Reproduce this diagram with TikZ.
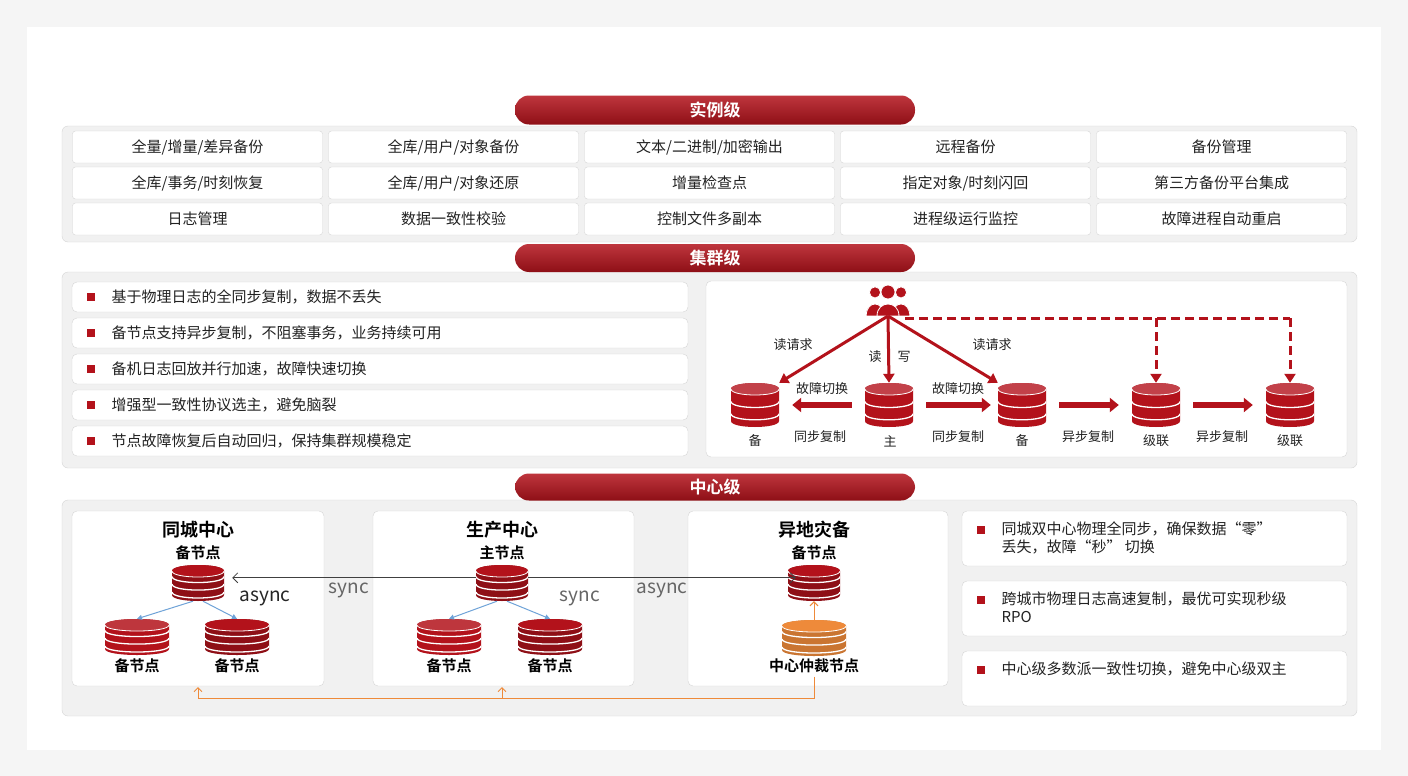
\documentclass[tikz,border=0pt]{standalone}
\usepackage{fontspec}
\setmainfont{Noto Sans CJK SC}[BoldFont={Noto Sans CJK SC Bold}]
\usetikzlibrary{calc,arrows.meta}
\definecolor{dred}{HTML}{B3121B}
\definecolor{dred2}{HTML}{8E0F16}
\definecolor{pale}{HTML}{F1F1F1}
\definecolor{edge}{HTML}{D6D6D6}
\definecolor{txt}{HTML}{222222}
\definecolor{org}{HTML}{EE8A3A}
\definecolor{blu}{HTML}{6FA3D8}
\newcommand\dbpic[3]{%
 \coordinate (ppsw) at (path picture bounding box.south west);
 \coordinate (ppne) at (path picture bounding box.north east);
 \coordinate (ppnw) at (ppsw|-ppne); \coordinate (ppse) at (ppne|-ppsw);
 \fill[#1] ([yshift=-6pt]ppnw) -- ([yshift=6pt]ppsw) .. controls ([yshift=-2pt]ppsw) and ([yshift=-2pt]ppse) .. ([yshift=6pt]ppse) -- ([yshift=-6pt]ppne) .. controls ([yshift=2pt]ppne) and ([yshift=2pt]ppnw) .. cycle;
 \fill[#2] ([yshift=-6pt]ppnw) .. controls ([yshift=2pt]ppnw) and ([yshift=2pt]ppne) .. ([yshift=-6pt]ppne) .. controls ([yshift=-14pt]ppne) and ([yshift=-14pt]ppnw) .. cycle;
 \draw[white,line width=0.8pt] ([yshift=-6pt]ppnw) .. controls ([yshift=-14pt]ppnw) and ([yshift=-14pt]ppne) .. ([yshift=-6pt]ppne);
 \foreach \f in {#3}{\draw[white,line width=1.3pt] ($(ppsw)!\f!(ppnw)$) .. controls +(0pt,-8pt) and +(0pt,-8pt) .. ($(ppse)!\f!(ppne)$);}}
\tikzset{
 x=1pt,y=-1pt,
 pill/.style={rounded corners=14pt,top color=dred!85!white,bottom color=dred2,text=white,font=\fontsize{17}{20}\selectfont\bfseries},
 panel/.style={draw=edge,fill=pale,rounded corners=6pt},
 cell/.style={draw=edge,fill=white,rounded corners=3pt,minimum width=250pt,minimum height=32pt,font=\fontsize{15}{18}\selectfont,text=txt},
 wbox/.style={draw=edge,fill=white,rounded corners=5pt},
 btxt/.style={anchor=west,font=\fontsize{15}{18}\selectfont,text=txt,align=left},
 bsq/.style={fill=dred,minimum size=8pt,inner sep=0pt},
 db/.style={rectangle,inner sep=0pt,minimum width=48pt,minimum height=44pt,path picture={\dbpic{dred}{dred!80!white}{0.3,0.58}}},
 dbc/.style={rectangle,inner sep=0pt,minimum width=64pt,minimum height=36pt,path picture={\dbpic{dred2}{dred}{0.25,0.47,0.68}}},
 dbo/.style={rectangle,inner sep=0pt,minimum width=64pt,minimum height=36pt,path picture={\dbpic{org!85!black}{org}{0.25,0.47,0.68}}},
 lbl/.style={font=\fontsize{13}{15}\selectfont,text=txt},
 blbl/.style={font=\fontsize{15}{18}\selectfont\bfseries,text=black},
 tlbl/.style={font=\fontsize{18}{21}\selectfont\bfseries,text=black},
 glbl/.style={font=\fontsize{19}{22}\selectfont,text=black!60},
 thick red/.style={draw=dred,line width=3pt,-{Triangle[length=9pt,width=11pt]}},
 fat/.style={draw=dred,line width=6pt,-{Triangle[length=9pt,width=14pt]}},
}
\begin{document}
\begin{tikzpicture}
\useasboundingbox (0,0) rectangle (1408,776);
\fill[black!4] (0,0) rectangle (1408,776);
\fill[white] (27,27) rectangle (1381,750);
% ---------- instance level
\draw[panel] (62,126) rectangle (1357,242);
\node[pill,minimum width=400pt,minimum height=29pt] (p1) at (715,110) {实例级};
\foreach \t [count=\i from 0] in {全量/增量/差异备份,全库/用户/对象备份,文本/二进制/加密输出,远程备份,备份管理}
  \node[cell] (a\i) at ({197.5+256*\i},147) {\t};
\foreach \t [count=\i from 0] in {全库/事务/时刻恢复,全库/用户/对象还原,增量检查点,指定对象/时刻闪回,第三方备份平台集成}
  \node[cell] (b\i) at ({197.5+256*\i},183) {\t};
\foreach \t [count=\i from 0] in {日志管理,数据一致性校验,控制文件多副本,进程级运行监控,故障进程自动重启}
  \node[cell] (c\i) at ({197.5+256*\i},219) {\t};
% ---------- cluster level
\draw[panel] (62,272) rectangle (1357,468);
\node[pill,minimum width=400pt,minimum height=28pt] (p2) at (715,258) {集群级};
\foreach \t [count=\i from 0] in {基于物理日志的全同步复制，数据不丢失,备节点支持异步复制，不阻塞事务，业务持续可用,备机日志回放并行加速，故障快速切换,增强型一致性协议选主，避免脑裂,节点故障恢复后自动回归，保持集群规模稳定}{
  \draw[wbox] (72,{282+36*\i}) rectangle (688,{312+36*\i});
  \node[bsq] (q\i) at (91,{297+36*\i}) {};
  \node[btxt] (t\i) at (108,{297+36*\i}) {\t};}
\draw[wbox] (706,281) rectangle (1347,457);
% users icon
\node[inner sep=0pt,minimum width=50pt,minimum height=34pt] (usr) at (888,300) {};
\foreach \dx/\s in {-13/0.8,13/0.8,0/1}{
  \fill[dred,draw=white,line width=0.8pt] ({888+\dx-11*\s},{316}) .. controls ({888+\dx-11*\s},{300}) and ({888+\dx+11*\s},{300}) .. ({888+\dx+11*\s},{316}) -- cycle;
  \fill[dred,draw=white,line width=0.8pt] ({888+\dx},{294-2*\s}) circle ({7*\s});}
\node[db] (d1) at (755,405) {};
\node[db] (d2) at (889,405) {};
\node[db] (d3) at (1022,405) {};
\node[db] (d4) at (1156,405) {};
\node[db] (d5) at (1290,405) {};
\coordinate (uo) at (888,316);
\draw[thick red] (uo) -- (d1.north east);
\draw[thick red] (uo) -- (d2.north);
\draw[thick red] (uo) -- (d3.north west);
\coordinate (k1) at (1156,318); \coordinate (k2) at (1290,318);
\draw[draw=dred,line width=3pt,dash pattern=on 9pt off 5pt] (905,318) -- (k2);
\draw[draw=dred,line width=3pt,dash pattern=on 9pt off 5pt,-{Triangle[length=9pt,width=11pt]}] (k1) -- (d4.north);
\draw[draw=dred,line width=3pt,dash pattern=on 9pt off 5pt,-{Triangle[length=9pt,width=11pt]}] (k2) -- (d5.north);
\draw[fat] ([xshift=-13pt]d2.west) -- ([xshift=13pt]d1.east);
\draw[fat] ([xshift=13pt]d2.east) -- ([xshift=-7pt]d3.west);
\draw[fat] ([xshift=13pt]d3.east) -- ([xshift=-13pt]d4.west);
\draw[fat] ([xshift=13pt]d4.east) -- ([xshift=-13pt]d5.west);
\node[lbl] (r1) at (793,345) {读请求};
\node[lbl] (r2) at (992,345) {读请求};
\node[lbl] (r3) at (875,357) {读};
\node[lbl] (r4) at (904,357) {写};
\node[lbl] (f1) at (822,389) {故障切换};
\node[lbl] (f2) at (958,389) {故障切换};
\node[lbl] (s1) at (820,437) {同步复制};
\node[lbl] (s2) at (958,437) {同步复制};
\node[lbl] (s3) at (1088,437) {异步复制};
\node[lbl] (s4) at (1222,437) {异步复制};
\node[lbl] (n1) at (755,441) {备};
\node[lbl] (n2) at (890,441) {主};
\node[lbl] (n3) at (1022,441) {备};
\node[lbl] (n4) at (1156,441) {级联};
\node[lbl] (n5) at (1290,441) {级联};
% ---------- center level
\draw[panel] (62,500) rectangle (1357,716);
\node[pill,minimum width=400pt,minimum height=27pt] (p3) at (715,487) {中心级};
\draw[wbox] (72,511) rectangle (324,686);
\draw[wbox] (373,511) rectangle (634,686);
\draw[wbox] (688,511) rectangle (948,686);
\foreach \t [count=\i from 0] in {同城双中心物理全同步，确保数据“零”\\丢失，故障“秒” 切换,跨城市物理日志高速复制，最优可实现秒级\\RPO,中心级多数派一致性切换，避免中心级双主}{
  \draw[wbox] (962,{511+70*\i}) rectangle (1347,{566+70*\i});
  \node[bsq] (u\i) at (981,{530+70*\i}) {};
  \node[btxt,anchor=north west] (v\i) at (998,{518+70*\i}) {\t};}
\node[tlbl] (h1) at (198,530) {同城中心};
\node[tlbl] (h2) at (502,530) {生产中心};
\node[tlbl] (h3) at (814,530) {异地灾备};
\node[blbl] (m1) at (198,553) {备节点};
\node[blbl] (m2) at (502,553) {主节点};
\node[blbl] (m3) at (814,553) {备节点};
\node[dbc,minimum width=52pt] (e1) at (198,583) {};
\node[dbc,minimum width=52pt] (e2) at (502,583) {};
\node[dbc,minimum width=52pt] (e3) at (814,583) {};
\node[dbc,path picture={\dbpic{dred}{dred!85!white}{0.25,0.47,0.68}}] (e4) at (137,637) {};
\node[dbc] (e5) at (237,637) {};
\node[dbc,path picture={\dbpic{dred}{dred!85!white}{0.25,0.47,0.68}}] (e6) at (449,637) {};
\node[dbc] (e7) at (550,637) {};
\node[dbo] (e8) at (814,638) {};
\node[blbl] (w4) at (137,666) {备节点};
\node[blbl] (w5) at (237,666) {备节点};
\node[blbl] (w6) at (449,666) {备节点};
\node[blbl] (w7) at (550,666) {备节点};
\node[blbl] (w8) at (814,666) {中心仲裁节点};
\draw[black!75,line width=0.8pt,-{Straight Barb[length=5pt]}] ([yshift=-13pt]e2.north west) -- ([xshift=8pt,yshift=-13pt]e1.north east);
\draw[black!75,line width=0.8pt,-{Straight Barb[length=5pt]}] ([yshift=-13pt]e2.north east) -- ([xshift=8pt,yshift=-13pt]e3.north west);
\node[glbl] (g1) at (349,590) {sync};
\node[glbl] (g2) at (662,590) {async};
\node[glbl,text=black!85] (g3) at (265,598) {async};
\node[glbl] (g4) at (580,598) {sync};
\draw[blu,line width=1pt,-{Triangle[length=5pt,width=5pt]}] ([xshift=-5pt]e1.south) -- (e4.north);
\draw[blu,line width=1pt,-{Triangle[length=5pt,width=5pt]}] ([xshift=5pt]e1.south) -- (e5.north);
\draw[blu,line width=1pt,-{Triangle[length=5pt,width=5pt]}] ([xshift=-5pt]e2.south) -- (e6.north);
\draw[blu,line width=1pt,-{Triangle[length=5pt,width=5pt]}] ([xshift=5pt]e2.south) -- (e7.north);
\draw[org,line width=1pt,-{Straight Barb[length=4pt]}] (e8.north) -- (e3.south);
\coordinate (o1) at (814,698); \coordinate (o2) at (198,698); \coordinate (o3) at (502,698);
\draw[org,line width=1pt,-{Straight Barb[length=4pt]}] (w8.south) -- (o1) -- (o2) -- (198,687);
\draw[org,line width=1pt,-{Straight Barb[length=4pt]}] (o3) -- (502,687);
\end{tikzpicture}
\end{document}
